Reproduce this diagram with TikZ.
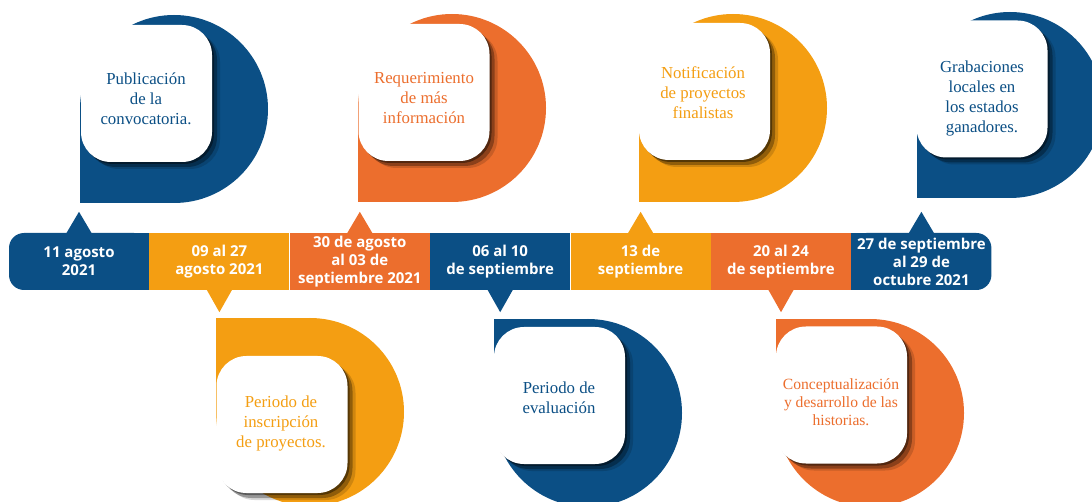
\documentclass[tikz,border=0pt]{standalone}
\usepackage{fontspec}
\setmainfont{Liberation Serif}
\newfontfamily\barfont{Open Sans}
\usetikzlibrary{positioning,shadows}

\definecolor{azul}{HTML}{0B4F85}
\definecolor{naranja}{HTML}{EC6E2D}
\definecolor{amarillo}{HTML}{F49E12}

\begin{document}
\begin{tikzpicture}[x=1pt,y=-1pt,
    seg/.style={rectangle,inner sep=0pt,minimum width=140pt,minimum height=57pt,
        text=white,align=center,font=\barfont\bfseries\fontsize{15}{18}\selectfont},
    caja/.style={rectangle,fill=white,rounded corners=30pt,inner sep=0pt,
        minimum width=131pt,minimum height=137pt,
        drop shadow={shadow xshift=2pt,shadow yshift=-2pt,fill=black,opacity=.4},
        drop shadow={shadow xshift=5pt,shadow yshift=-5pt,fill=black,opacity=.3},
        drop shadow={shadow xshift=8pt,shadow yshift=-7pt,fill=black,opacity=.15}},
    texto/.style={align=center,font=\fontsize{16.8}{20}\selectfont}]
\clip (0,0) rectangle (1092,502);

% globos de arriba
\fill[azul] (174,109) circle (94pt); \fill[azul] (80,109) rectangle (174,203);
\fill[naranja] (452,108) circle (94pt); \fill[naranja] (358,108) rectangle (452,202);
\fill[amarillo] (733,108) circle (94pt); \fill[amarillo] (639,108) rectangle (733,202);
\fill[azul] (1010,105) circle (93pt); \fill[azul] (917,105) rectangle (1010,198);

% globos de abajo
\fill[amarillo] (310,412) circle (94pt); \fill[amarillo] (216,318) rectangle (310,412);
\fill[azul] (588,413) circle (94pt); \fill[azul] (494,319) rectangle (588,413);
\fill[naranja] (870,413) circle (94pt); \fill[naranja] (776,319) rectangle (870,413);

% cajas blancas
\node[caja] (c1) at (146.5,93.5) {};
\node[caja] (c2) at (424,92.5) {};
\node[caja] (c3) at (704.5,91.5) {};
\node[caja] (c4) at (982,89) {};
\node[caja] (c5) at (282,424.5) {};
\node[caja] (c6) at (559.5,395.5) {};
\node[caja] (c7) at (841.5,395) {};

\node[texto,text=azul] (t1) at (146,99) {Publicación\\de la\\convocatoria.};
\node[texto,text=naranja] (t2) at (424,98) {Requerimiento\\de más\\información};
\node[texto,text=amarillo] (t3) at (703,93) {Notificación\\de proyectos\\finalistas};
\node[texto,text=azul] (t4) at (982,98) {Grabaciones\\locales en\\los estados\\ganadores.};
\node[texto,text=amarillo] (t5) at (281,423) {Periodo de\\inscripción\\de proyectos.};
\node[texto,text=azul] (t6) at (559,398) {Periodo de\\evaluación};
\node[texto,text=naranja,font=\fontsize{15.6}{18}\selectfont] (t7) at (841,402) {Conceptualización\\y desarrollo de las\\historias.};

% linea de tiempo
\fill[azul] (79,233) rectangle (149,290);
\fill[azul] (849,233) rectangle (919,290);
\node[seg,fill=azul,rounded corners=15pt] (s1) at (79,261.5) {11 agosto\\2021};
\node[seg,fill=amarillo,right=0pt of s1] (s2) {09 al 27\\agosto 2021};
\node[seg,fill=naranja,right=0pt of s2] (s3) {30 de agosto\\al 03 de\\septiembre 2021};
\node[seg,fill=azul,right=0pt of s3] (s4) {06 al 10\\de septiembre};
\node[seg,fill=amarillo,right=0pt of s4] (s5) {13 de\\septiembre};
\node[seg,fill=naranja,right=0pt of s5] (s6) {20 al 24\\de septiembre};
\node[seg,fill=azul,rounded corners=15pt,right=0pt of s6] (s7) {27 de septiembre\\al 29 de\\octubre 2021};

% flechitas
\fill[azul] ([xshift=-13pt,yshift=-1pt]s1.north) -- ([yshift=21pt]s1.north) -- ([xshift=13pt,yshift=-1pt]s1.north) -- cycle;
\fill[naranja] ([xshift=-13pt,yshift=-1pt]s3.north) -- ([yshift=21pt]s3.north) -- ([xshift=13pt,yshift=-1pt]s3.north) -- cycle;
\fill[amarillo] ([xshift=-13pt,yshift=-1pt]s5.north) -- ([yshift=21pt]s5.north) -- ([xshift=13pt,yshift=-1pt]s5.north) -- cycle;
\fill[azul] ([xshift=-13pt,yshift=-1pt]s7.north) -- ([yshift=21pt]s7.north) -- ([xshift=13pt,yshift=-1pt]s7.north) -- cycle;
\fill[amarillo] ([xshift=-13pt,yshift=1pt]s2.south) -- ([yshift=-22pt]s2.south) -- ([xshift=13pt,yshift=1pt]s2.south) -- cycle;
\fill[azul] ([xshift=-13pt,yshift=1pt]s4.south) -- ([yshift=-22pt]s4.south) -- ([xshift=13pt,yshift=1pt]s4.south) -- cycle;
\fill[naranja] ([xshift=-13pt,yshift=1pt]s6.south) -- ([yshift=-22pt]s6.south) -- ([xshift=13pt,yshift=1pt]s6.south) -- cycle;

\end{tikzpicture}
\end{document}
